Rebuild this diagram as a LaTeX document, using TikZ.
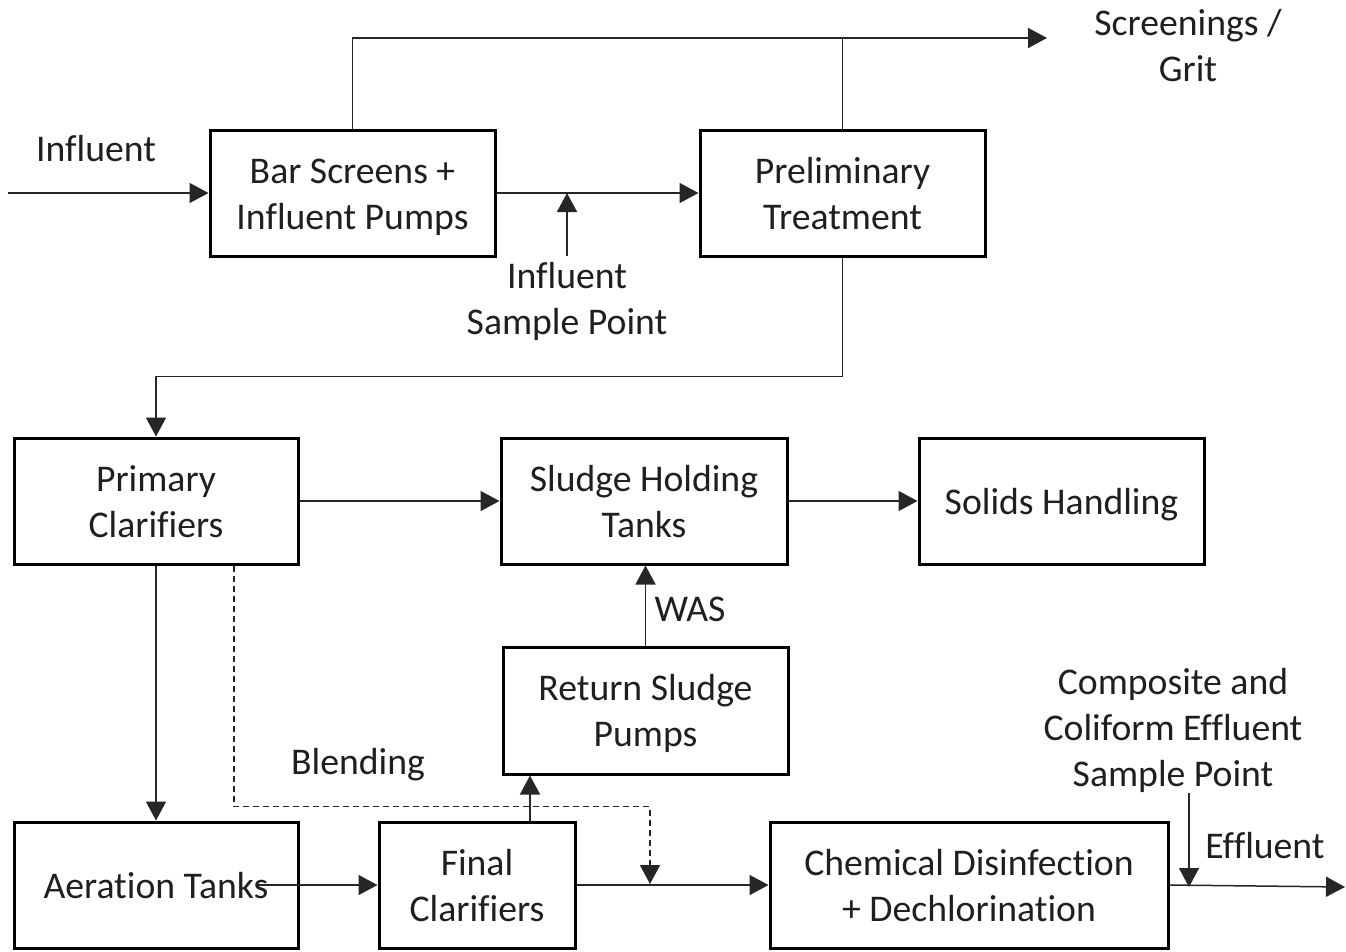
\documentclass[tikz,border=0pt]{standalone}
\usepackage{fontspec}
\setmainfont{Carlito}[Ligatures={NoCommon}]
\usetikzlibrary{arrows.meta}
\begin{document}
% text struts are measured from the baseline of the last line:
% 34pt above it for one line, plus 46pt per extra line
\begin{tikzpicture}[x=1pt,y=-1pt,
  txt/.style={font=\fontsize{37.7pt}{46pt}\selectfont, align=center, inner sep=0pt, text=black!88,
    execute at begin node={\rule{0pt}{#1}},
    execute at end node={\rule[-8pt]{0pt}{8pt}}},
  txt/.default=80pt,
  box/.style={txt=#1, draw=black, line width=3pt, minimum height=126pt},
  box/.default=80pt,
  arr/.style={line width=1.5pt, draw=black!85, -{Triangle[length=19pt,width=20pt]}},
  flow/.style={line width=1.5pt, draw=black!85},
  bypass/.style={arr, dash pattern=on 6pt off 4pt}]
\useasboundingbox (0,0) rectangle (1346,951);

% process units
\node[box, minimum width=285pt] (bar)    at (352.5,193) {Bar Screens +\\Influent Pumps};
\node[box, minimum width=285pt] (prelim) at (842.5,193) {Preliminary\\Treatment};
\node[box, minimum width=284pt] (primary) at (156,501) {Primary\\Clarifiers};
\node[box, minimum width=286pt] (sludge) at (644,501) {Sludge Holding\\Tanks};
\node[box=34pt, minimum width=285pt] (solids) at (1061.5,501) {Solids Handling};
\node[box, minimum width=285pt, minimum height=127pt] (ret) at (645.5,710.5) {Return Sludge\\Pumps};
\node[box=34pt, minimum width=284pt] (aer) at (156,885) {Aeration Tanks};
\node[box, minimum width=196pt] (final) at (477,885) {Final\\Clarifiers};
\node[box, minimum width=398pt] (chem)  at (969,885) {Chemical Disinfection\\+ Dechlorination};

% labels
\node[txt=34pt] (linf) at (96,148)   {Influent};
\node[txt]      (lscr) at (1188,45)  {Screenings /\\Grit};
\node[txt]      (lisp) at (567,298)  {Influent\\Sample Point};
\node[txt=34pt] (lwas) at (690,608)  {WAS};
\node[txt=34pt] (lbld) at (358,761)  {Blending};
\node[txt=126pt] (lcsp) at (1173,727) {Composite and\\Coliform Effluent\\Sample Point};
\node[txt=34pt] (leff) at (1265,845) {Effluent};

% free ends
\coordinate (inS)  at (8,193);
\coordinate (scr)  at (1047,38);
\coordinate (isp)  at (567,256);
\coordinate (bTip) at (650,884);
\coordinate (out)  at (1345,887);
\coordinate (csp)  at (1189,793);

% connectors
\draw[arr] (inS) -- (bar.west);
\draw[arr] (bar.east) -- (prelim.west);
\draw[arr] (isp) -- (isp |- bar.east);
\draw[arr] (bar.north) |- (scr);
\draw[flow] (prelim.north) -- (prelim.north |- scr);
\draw[arr] (prelim.south) -- ++(0,119) -| (primary.north);
\draw[arr] (primary.east) -- (sludge.west);
\draw[arr] (sludge.east) -- (solids.west);
\draw[arr] (ret.north) -- (ret.north |- sludge.south);
\draw[arr] (primary.south) -- (aer.north);
\draw[bypass] ([xshift=78pt]primary.south) -- ++(0,241) -| (bTip);
\draw[arr] ([xshift=102pt]aer.center) -- (final.west);
\draw[arr] ([xshift=53pt]final.north) -- ([xshift=53pt]final.north |- ret.south);
\draw[arr] (final.east) -- (chem.west);
\draw[arr] (chem.east) -- (out);
\draw[arr] (csp) -- (csp |- out);
\end{tikzpicture}
\end{document}
